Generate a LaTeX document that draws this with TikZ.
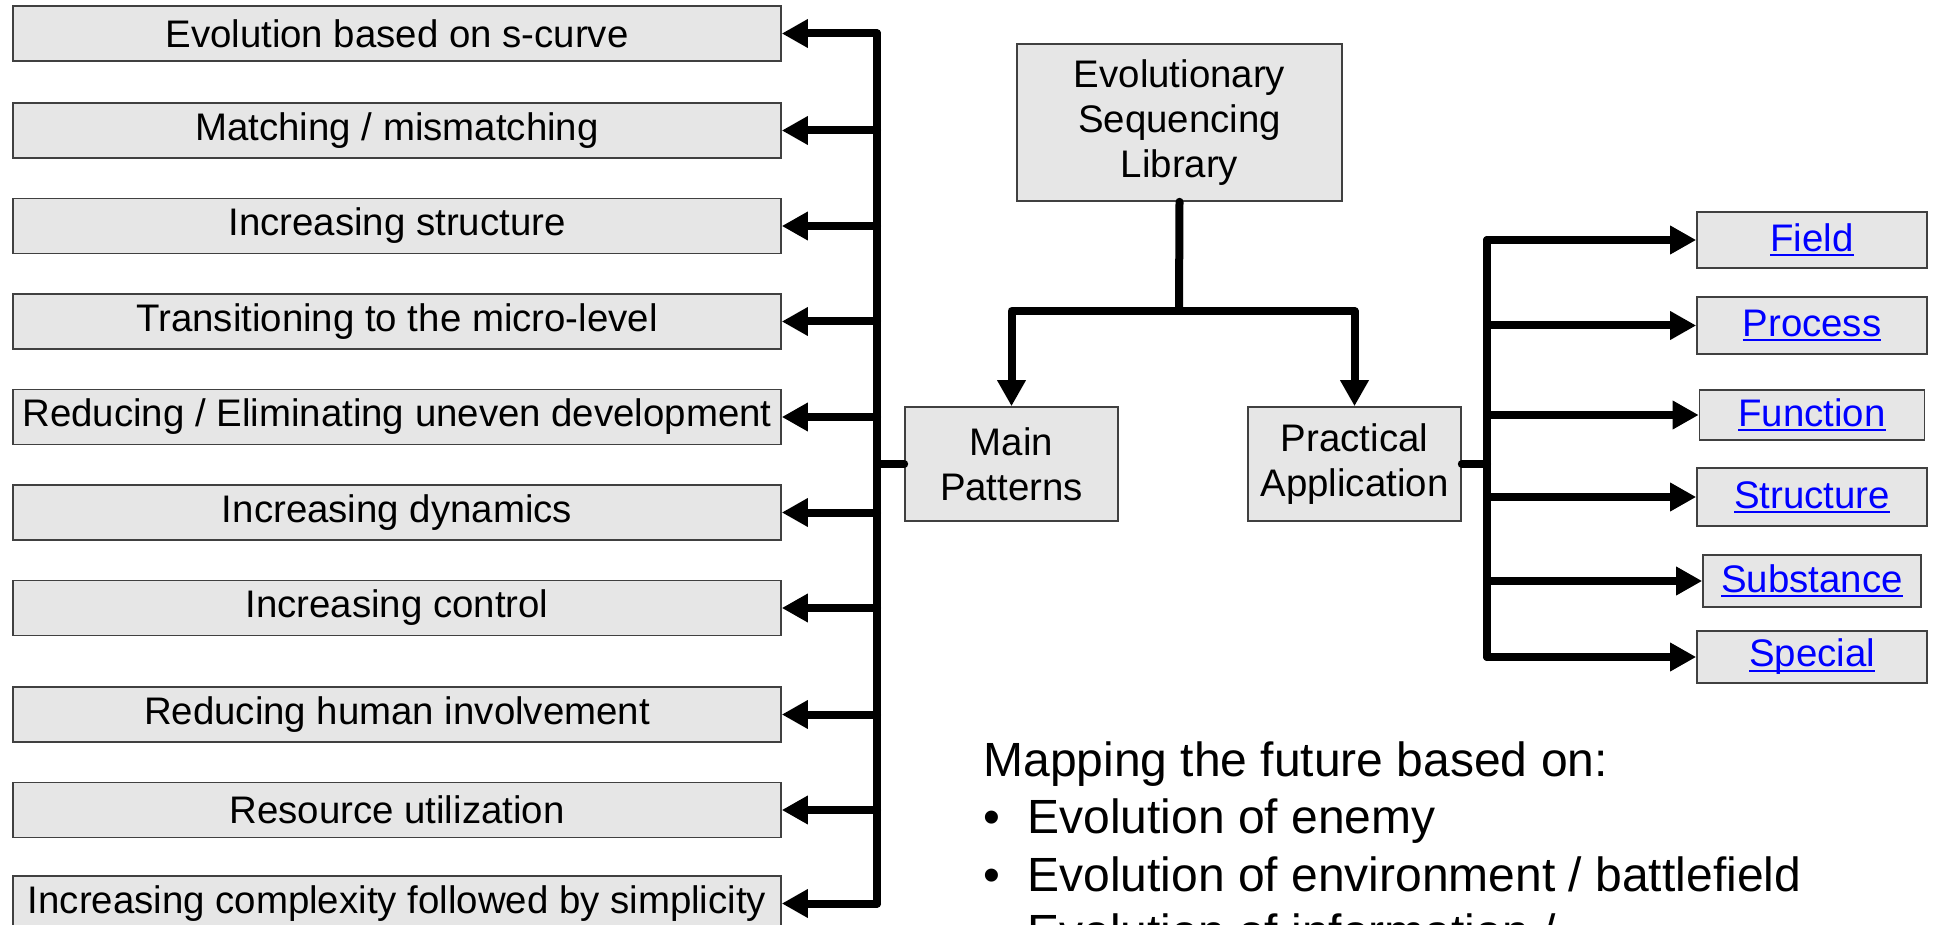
\documentclass[tikz,border=0pt]{standalone}
\usepackage{fontspec}
\setmainfont{Liberation Sans}
\usetikzlibrary{arrows.meta}
\definecolor{boxfill}{HTML}{E6E6E6}
\definecolor{boxline}{HTML}{404040}
\definecolor{linkblue}{HTML}{0000FF}
\newcommand{\linktext}[1]{\textcolor{linkblue}{\sbox0{#1}\rlap{\rule[-2.4pt]{\wd0}{1pt}}\usebox0}}

\begin{document}
\begin{tikzpicture}[x=0.5pt,y=-0.5pt,
	box/.style={draw=boxline,fill=boxfill,line width=0.8pt,inner sep=0pt,align=center,font=\fontsize{19.2}{22.5}\selectfont},
	bus/.style={line width=4pt,line cap=round,line join=round},
	link/.style={bus,-{Triangle[length=13pt,width=13.5pt]}},
	mtext/.style={anchor=base west,inner sep=0pt,font=\fontsize{24}{28.75}\selectfont}]

\useasboundingbox (0,0) rectangle (1934,925);
\clip (0,0) rectangle (1934,925);

\foreach \i/\y/\t in {1/33.5/{Evolution based on s-curve},2/130.5/{Matching / mismatching},3/226/{Increasing structure},4/321.5/{Transitioning to the micro-level},5/417/{Reducing / Eliminating uneven development},6/512.5/{Increasing dynamics},7/608/{Increasing control},8/714.5/{Reducing human involvement},9/810/{Resource utilization},10/903.5/{Increasing complexity followed by simplicity}}
	\node[box,minimum width=384pt,minimum height=27.5pt] at (397,\y) (l\i) {\t};

\node[box,minimum width=162.5pt,minimum height=78.5pt] at (1179.5,122.5) (esl) {Evolutionary\\Sequencing\\Library};
\node[box,minimum width=106.5pt,minimum height=57pt] at (1011.5,464) (mp) {Main\\Patterns};
\node[box,minimum width=106.5pt,minimum height=57pt] at (1354.5,464) (pa) {Practical\\Application};

\foreach \i/\y/\w/\h/\t in {1/240/115/28/Field,2/325.5/115/28.5/Process,3/415/112.5/25/Function,4/497/115/29/Structure,5/581/109/26/Substance,6/657/115/26/Special}
	\node[box,minimum width=\w pt,minimum height=\h pt] at (1812,\y) (r\i) {\linktext{\t}};

\coordinate (lb) at (877,464);
\coordinate (rb) at (1487,464);
\coordinate (sp) at (1179,311);

% left bus
\draw[bus] (lb |- l1) -- (lb |- l10);
\foreach \i in {1,...,10}
	\draw[link] (lb |- l\i) -- (l\i);
\draw[bus] (mp.west) -- (lb |- mp.west);

% library split
\draw[bus] (esl.south) -- (sp);
\draw[link] (sp) -| (mp);
\draw[link] (sp) -| (pa);

% right bus
\draw[bus] (pa.east) -- (rb |- pa.east);
\draw[bus] (rb |- r1) -- (rb |- r6);
\foreach \i in {1,...,6}
	\draw[link] (rb |- r\i) -- (r\i);

\node[mtext] at (983,776) (map) {Mapping the future based on:};
\foreach \i/\y/\t in {1/833/{Evolution of enemy},2/891/{Evolution of environment / battlefield},3/948/{Evolution of information /}}
	\node[mtext] at (983,\y) (b\i) {\makebox[22pt][l]{•}\t};
\end{tikzpicture}
\end{document}
